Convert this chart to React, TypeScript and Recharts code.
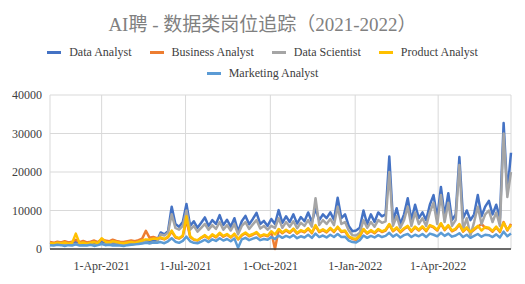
import React from "react";
import {
  LineChart,
  Line,
  XAxis,
  YAxis,
  CartesianGrid,
} from "recharts";

// daily-ish samples, one every 4 days, starting 4-Feb-2021
const START = Date.UTC(2021, 1, 4);
const STEP_DAYS = 4;
const DAY = 24 * 3600 * 1000;

const dataAnalyst = [
  1600, 1400, 1700, 1500, 1300, 1600, 1500, 1800, 1400, 1600,
  1500, 1700, 1400, 1600, 1800, 1500, 1700, 1400, 1600, 1500,
  1300, 1600, 1500, 1700, 1800, 2000, 2300, 1900, 2200, 2100,
  4300, 3800, 4600, 11000, 6500, 5800, 7000, 11700, 6000, 7200,
  5500, 6800, 8200, 6000, 7500, 6500, 8800, 6200, 7600, 5800,
  8000, 4500, 7200, 8600, 6400, 7800, 9400, 6500, 7300, 6000,
  7800, 6500, 10100, 6800, 8500, 7000, 9000, 6600, 8300, 7200,
  9500, 7000, 10500, 7500, 9000, 8000, 9500, 7600, 13300, 8000,
  9000, 6000, 4600, 4800, 5500, 10000, 6500, 9000, 7000, 9500,
  8500, 9000, 24000, 7000, 10600, 6500, 9000, 13200, 7500, 11500,
  8000, 9500, 7500, 11500, 14000, 8000, 16100, 8500, 14500, 7500,
  9000, 23900, 8000, 10000, 7500, 9000, 14000, 8500, 11000, 12500,
  9000, 11500, 8000, 32700, 14500, 25000,
];

const businessAnalyst = [
  1800, 1600, 1900, 1700, 2000, 1700, 1900, 2400, 1800, 2100,
  1700, 1900, 2200, 1800, 2500, 2200, 2000, 2400, 2100, 1900,
  1800, 2000, 2200, 2000, 2300, 2700, 4700, 2900, 3100, 2800,
  2800, 2500, 3000, 4500, 3000, 2700, 3300, 7500, 3100, 2400,
  2200, 2900, 3400, 2700, 3600, 3000, 4000, 3200, 3700, 3000,
  3800, 2500, 3500, 4100, 3300, 3700, 4200, 3200, 3600, 3300,
  4400, 0, 5000, 4100, 4800, 4200, 5100, 4000, 4700, 4300,
  5200, 4100, 6000, 4400, 4900, 4300, 5300, 4400, 5600, 4400,
  4600, 3100, 2600, 2400, 3300, 5000, 4000, 4700, 4100, 5000,
  4400, 4800, 6300, 4600, 5400, 4300, 5200, 5800, 4500, 5600,
  4800, 5700, 4600, 6000, 5600, 4800, 6500, 4900, 6000, 4600,
  5100, 6300, 4500, 5400, 4200, 5000, 5800, 6500, 5500, 5300,
  4500, 5600, 4400, 7000, 4800, 6500,
];

const dataScientist = [
  1200, 1100, 1300, 1200, 1000, 1200, 1100, 1300, 1100, 1200,
  1100, 1300, 1000, 1200, 1400, 1200, 1300, 1100, 1200, 1100,
  1000, 1200, 1100, 1300, 1400, 1600, 1800, 1500, 1700, 1600,
  3800, 3500, 4200, 9000, 5500, 5000, 6000, 10000, 5000, 6000,
  4500, 5500, 6500, 5000, 6200, 5200, 7000, 5000, 6200, 4800,
  6500, 3800, 6000, 7000, 5200, 6400, 7500, 5300, 6000, 5000,
  6000, 5500, 8000, 5500, 7000, 5800, 7200, 5400, 6800, 6000,
  7500, 5800, 13200, 6200, 7500, 6500, 7800, 6200, 11000, 6500,
  7000, 4800, 3600, 3500, 4200, 7500, 5500, 7000, 5800, 7500,
  6800, 7200, 20000, 6000, 8500, 5500, 7500, 11000, 6000, 9500,
  6500, 8000, 6000, 9500, 12000, 6500, 14000, 7000, 12000, 6000,
  7500, 21800, 5000, 8000, 3500, 7000, 11000, 6500, 9000, 10000,
  7000, 9500, 6000, 30000, 13500, 20000,
];

const productAnalyst = [
  1500, 1400, 1600, 1500, 1700, 1400, 1600, 4000, 1500, 1700,
  1400, 1600, 1800, 1500, 2800, 1900, 1700, 2000, 1800, 1600,
  1500, 1700, 1800, 1600, 1900, 2200, 2500, 2400, 2700, 2600,
  3000, 2600, 3200, 4800, 3200, 2800, 3500, 8500, 3300, 2500,
  2300, 3000, 3600, 2800, 3800, 3200, 4200, 3400, 3900, 3100,
  4000, 2600, 3700, 4300, 3500, 3900, 4400, 3400, 3800, 3500,
  4600, 3800, 5200, 4300, 5000, 4400, 5300, 4200, 4900, 4500,
  5400, 4300, 6200, 4600, 5100, 4500, 5500, 4600, 5800, 4600,
  4800, 3300, 2800, 2600, 3500, 5200, 4200, 4900, 4300, 5200,
  4600, 5000, 6500, 4800, 5600, 4500, 5400, 6000, 4700, 5800,
  5000, 5900, 4800, 6200, 5800, 5000, 6700, 5100, 6200, 4800,
  5300, 6500, 4700, 5600, 4400, 5200, 6000, 4800, 5700, 5500,
  4700, 5800, 4600, 6800, 5000, 6200,
];

const marketingAnalyst = [
  1000, 900, 1100, 1000, 800, 1000, 900, 1200, 900, 1000,
  900, 1100, 800, 1000, 1300, 1000, 1100, 900, 1000, 900,
  800, 1000, 1100, 1200, 1300, 1400, 1600, 1500, 1700, 1600,
  1800, 1500, 2000, 2800, 1900, 1600, 2100, 3200, 2000, 1600,
  1500, 1900, 2400, 1800, 2500, 2100, 2800, 2200, 2600, 2000,
  2700, 300, 2500, 2900, 2300, 2700, 3000, 2300, 2600, 2400,
  3100, 2600, 3500, 2900, 3400, 3000, 3600, 2800, 3300, 3000,
  3700, 2900, 4000, 3100, 3500, 3000, 3700, 3100, 3900, 3100,
  3200, 2200, 1800, 1700, 2300, 3500, 2900, 3400, 3000, 3600,
  3100, 3400, 4200, 3200, 3800, 3000, 3600, 3900, 3100, 3700,
  3300, 3900, 3100, 4000, 3700, 3300, 4200, 3400, 4000, 3200,
  3500, 4100, 3100, 3700, 2900, 3400, 3900, 3200, 3700, 3600,
  3100, 3800, 3000, 4500, 3300, 4000,
];

const xTicks = [
  Date.UTC(2021, 3, 1),
  Date.UTC(2021, 6, 1),
  Date.UTC(2021, 9, 1),
  Date.UTC(2022, 0, 1),
  Date.UTC(2022, 3, 1),
];
const yTicks = [0, 10000, 20000, 30000, 40000];
const MONTHS = ["Jan", "Feb", "Mar", "Apr", "May", "Jun", "Jul", "Aug", "Sep", "Oct", "Nov", "Dec"];

const series = [
  { key: "da", name: "Data Analyst", color: "#4472C4", values: dataAnalyst },
  { key: "ba", name: "Business Analyst", color: "#ED7D31", values: businessAnalyst },
  { key: "ds", name: "Data Scientist", color: "#A5A5A5", values: dataScientist },
  { key: "pa", name: "Product Analyst", color: "#FFC000", values: productAnalyst },
  { key: "ma", name: "Marketing Analyst", color: "#5B9BD5", values: marketingAnalyst },
];

const data = dataAnalyst.map((_, i) => {
  const row: Record<string, number> = { t: START + i * STEP_DAYS * DAY };
  series.forEach((s) => (row[s.key] = s.values[i]));
  return row;
});

const fmtDate = (t: number) => {
  const d = new Date(t);
  return `${d.getUTCDate()}-${MONTHS[d.getUTCMonth()]}-${d.getUTCFullYear()}`;
};

const serif = "Liberation Serif, Noto Sans CJK SC, serif";

function LegendItem({ name, color }: { name: string; color: string }) {
  return (
    <span style={{ display: "inline-flex", alignItems: "center", margin: "0 9px" }}>
      <span style={{ width: 14, height: 3, background: color, marginRight: 8 }} />
      <span>{name}</span>
    </span>
  );
}

export default function App() {
  return (
    <div
      style={{
        position: "absolute",
        left: 0,
        top: 0,
        width: 525,
        height: 284,
        background: "#fff",
        fontFamily: serif,
      }}
    >
      <div
        style={{
          position: "absolute",
          top: 9,
          width: 525,
          textAlign: "center",
          fontSize: 19,
          color: "#808080",
        }}
      >
        AI聘 - 数据类岗位追踪（2021-2022）
      </div>
      <div
        style={{
          position: "absolute",
          top: 41,
          width: 525,
          textAlign: "center",
          fontSize: 12,
          color: "#404040",
          lineHeight: "19px",
        }}
      >
        <div>
          {series.slice(0, 4).map((s) => (
            <LegendItem key={s.key} name={s.name} color={s.color} />
          ))}
        </div>
        <div>
          <LegendItem name={series[4].name} color={series[4].color} />
        </div>
      </div>
      <div style={{ position: "absolute", left: 0, top: 0 }}>
        <LineChart
          width={525}
          height={284}
          data={data}
          margin={{ top: 95, right: 14, left: 8, bottom: 10 }}
        >
          <CartesianGrid stroke="#d9d9d9" strokeWidth={1} />
          <XAxis
            dataKey="t"
            type="number"
            domain={[START, START + 500 * DAY]}
            ticks={xTicks}
            tickFormatter={fmtDate}
            tickLine={false}
            axisLine={{ stroke: "#404040", strokeWidth: 1.5 }}
            tick={{ fill: "#404040", fontSize: 12, fontFamily: serif }}
            tickMargin={6}
            height={25}
          />
          <YAxis
            domain={[0, 40000]}
            ticks={yTicks}
            tickLine={false}
            axisLine={false}
            tick={{ fill: "#404040", fontSize: 12, fontFamily: serif }}
            width={42}
          />
          {series.map((s) => (
            <Line
              key={s.key}
              dataKey={s.key}
              name={s.name}
              stroke={s.color}
              strokeWidth={2.5}
              dot={false}
              type="linear"
              strokeLinejoin="round"
              isAnimationActive={false}
            />
          ))}
        </LineChart>
      </div>
    </div>
  );
}
